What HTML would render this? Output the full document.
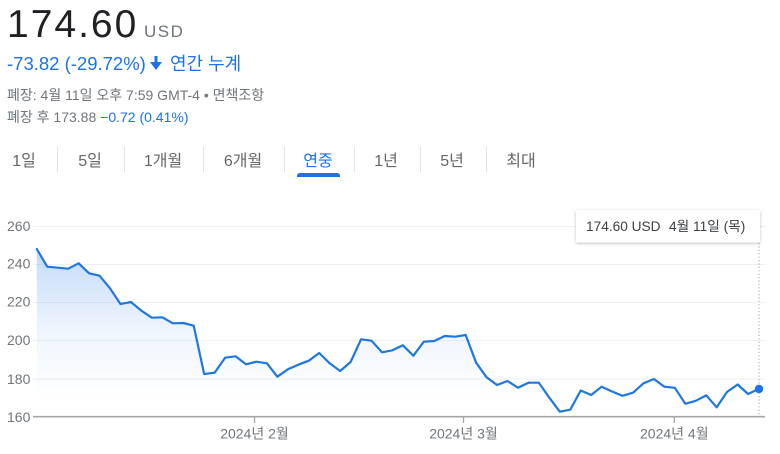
<!DOCTYPE html>
<html><head><meta charset="utf-8"><style>
html,body{margin:0;padding:0;background:#fff;width:780px;height:454px;overflow:hidden}
svg{display:block}
text{font-family:"Liberation Sans","Noto Sans CJK KR",sans-serif}
</style></head><body>
<svg width="780" height="454" viewBox="0 0 780 454" xmlns="http://www.w3.org/2000/svg">
<defs>
<linearGradient id="g" x1="0" y1="240" x2="0" y2="400" gradientUnits="userSpaceOnUse">
<stop offset="0" stop-color="#1a73e8" stop-opacity="0.28"/>
<stop offset="0.6" stop-color="#1a73e8" stop-opacity="0.06"/>
<stop offset="1" stop-color="#1a73e8" stop-opacity="0"/>
</linearGradient>
<filter id="sh" x="-10%" y="-30%" width="120%" height="170%">
<feDropShadow dx="0" dy="1" stdDeviation="1.5" flood-color="#000" flood-opacity="0.25"/>
</filter>
</defs>

<!-- Header -->
<text x="7" y="37" font-size="39" fill="#202124" letter-spacing="2">174.60</text>
<text x="144" y="37" font-size="17" fill="#70757a" letter-spacing="1.5">USD</text>
<text x="7" y="70" font-size="18.5" fill="#1a73e8">-73.82 (-29.72%)</text>
<g fill="#1a73e8">
<rect x="154.5" y="56" width="3" height="8"/>
<polygon points="150,62 162,62 156,70"/>
</g>
<text x="170" y="70" font-size="18" fill="#1a73e8">연간 누계</text>
<text x="7" y="100" font-size="14" fill="#70757a">폐장: 4월 11일 오후 7:59 GMT-4 • 면책조항</text>
<text x="7" y="122" font-size="14" fill="#70757a">폐장 후 173.88 <tspan fill="#1a73e8">−0.72 (0.41%)</tspan></text>

<!-- Tabs -->
<g font-size="16" fill="#666" text-anchor="middle">
<text x="24" y="166">1일</text>
<text x="90" y="166">5일</text>
<text x="163" y="166">1개월</text>
<text x="243" y="166">6개월</text>
<text x="318" y="166" fill="#1a73e8">연중</text>
<text x="386" y="166">1년</text>
<text x="452" y="166">5년</text>
<text x="521" y="166">최대</text>
</g>
<g stroke="#e3e5e8" stroke-width="1">
<line x1="57.5" y1="147" x2="57.5" y2="172"/>
<line x1="124.5" y1="147" x2="124.5" y2="172"/>
<line x1="203.5" y1="147" x2="203.5" y2="172"/>
<line x1="284.5" y1="147" x2="284.5" y2="172"/>
<line x1="354.5" y1="147" x2="354.5" y2="172"/>
<line x1="420.5" y1="147" x2="420.5" y2="172"/>
<line x1="486.5" y1="147" x2="486.5" y2="172"/>
</g>
<path d="M297,177 L297,176 Q297,173 300,173 L337,173 Q340,173 340,176 L340,177 Z" fill="#1a73e8"/>

<!-- Grid -->
<g stroke="#eef0f2" stroke-width="1">
<line x1="33" y1="226.5" x2="765" y2="226.5"/>
<line x1="33" y1="264.5" x2="765" y2="264.5"/>
<line x1="33" y1="302.5" x2="765" y2="302.5"/>
<line x1="33" y1="340.5" x2="765" y2="340.5"/>
<line x1="33" y1="379" x2="765" y2="379"/>
</g>
<g font-size="14" fill="#70757a">
<text x="7" y="231">260</text>
<text x="7" y="268.5">240</text>
<text x="7" y="306.7">220</text>
<text x="7" y="345">200</text>
<text x="7" y="384">180</text>
<text x="7" y="422">160</text>
</g>

<!-- Area + line -->
<path fill="url(#g)" d="M36.8,249 L47.26,266.7 L57.72,267.7 L68.18,268.7 L78.64,263.3 L89.1,273.3 L99.56,275.7 L110.02,288.3 L120.48,304 L130.94,302 L141.4,310.7 L151.86,317.7 L162.32,317.3 L172.78,323.3 L183.24,323 L193.7,325.7 L204.16,374 L214.62,372.7 L225.08,357.7 L235.54,356.3 L246,364.3 L256.46,361.7 L266.92,363.3 L277.38,376.7 L287.84,369.3 L298.3,364.7 L308.76,360.7 L319.22,353 L329.68,363.3 L340.14,371 L350.6,362 L361.06,339.3 L371.52,340.7 L381.98,352.3 L392.44,350.3 L402.9,345.3 L413.36,355.7 L423.82,341.7 L434.28,341 L444.74,336 L455.2,336.7 L465.66,335 L476.12,362.7 L486.58,377.3 L497.04,385 L507.5,381 L517.96,387.7 L528.42,382.7 L538.88,382.7 L549.34,397.7 L559.8,411.7 L570.26,409.7 L580.72,390.5 L591.18,395 L601.64,386.7 L612.1,391.5 L622.56,395.8 L633.02,392.7 L643.48,383.3 L653.94,379 L664.4,386.7 L674.86,387.8 L685.32,403.8 L695.78,400.8 L706.24,395.3 L716.7,407.3 L727.16,391.8 L737.62,384.5 L748.08,394 L758.54,389 L758.54,416.7 L36.8,416.7 Z"/>

<line x1="759" y1="243" x2="759" y2="416" stroke="#9aa0a6" stroke-width="1" stroke-dasharray="1.2,2.2"/>

<line x1="33" y1="416.7" x2="765" y2="416.7" stroke="#a6a6a6" stroke-width="1.6"/>
<g stroke="#a6a6a6" stroke-width="1.3">
<line x1="254.5" y1="416.7" x2="254.5" y2="423"/>
<line x1="463.5" y1="416.7" x2="463.5" y2="423"/>
<line x1="674.3" y1="416.7" x2="674.3" y2="423"/>
</g>
<g font-size="14" fill="#70757a" text-anchor="middle">
<text x="254.5" y="438.5">2024년 2월</text>
<text x="463.5" y="438.5">2024년 3월</text>
<text x="674.3" y="438.5">2024년 4월</text>
</g>

<polyline fill="none" stroke="#1f77e0" stroke-width="2.2" stroke-linejoin="round" stroke-linecap="round" points="36.8,249 47.26,266.7 57.72,267.7 68.18,268.7 78.64,263.3 89.1,273.3 99.56,275.7 110.02,288.3 120.48,304 130.94,302 141.4,310.7 151.86,317.7 162.32,317.3 172.78,323.3 183.24,323 193.7,325.7 204.16,374 214.62,372.7 225.08,357.7 235.54,356.3 246,364.3 256.46,361.7 266.92,363.3 277.38,376.7 287.84,369.3 298.3,364.7 308.76,360.7 319.22,353 329.68,363.3 340.14,371 350.6,362 361.06,339.3 371.52,340.7 381.98,352.3 392.44,350.3 402.9,345.3 413.36,355.7 423.82,341.7 434.28,341 444.74,336 455.2,336.7 465.66,335 476.12,362.7 486.58,377.3 497.04,385 507.5,381 517.96,387.7 528.42,382.7 538.88,382.7 549.34,397.7 559.8,411.7 570.26,409.7 580.72,390.5 591.18,395 601.64,386.7 612.1,391.5 622.56,395.8 633.02,392.7 643.48,383.3 653.94,379 664.4,386.7 674.86,387.8 685.32,403.8 695.78,400.8 706.24,395.3 716.7,407.3 727.16,391.8 737.62,384.5 748.08,394 758.54,389"/>
<circle cx="759" cy="389" r="4.2" fill="#1a73e8"/>

<!-- Tooltip -->
<rect x="576" y="210" width="184" height="32.5" rx="2" fill="#fff" filter="url(#sh)"/>
<text x="586" y="231" font-size="13.7" fill="#3c4043">174.60 USD</text>
<text x="669" y="231" font-size="13.7" fill="#3c4043">4월 11일 (목)</text>
</svg>
</body></html>
